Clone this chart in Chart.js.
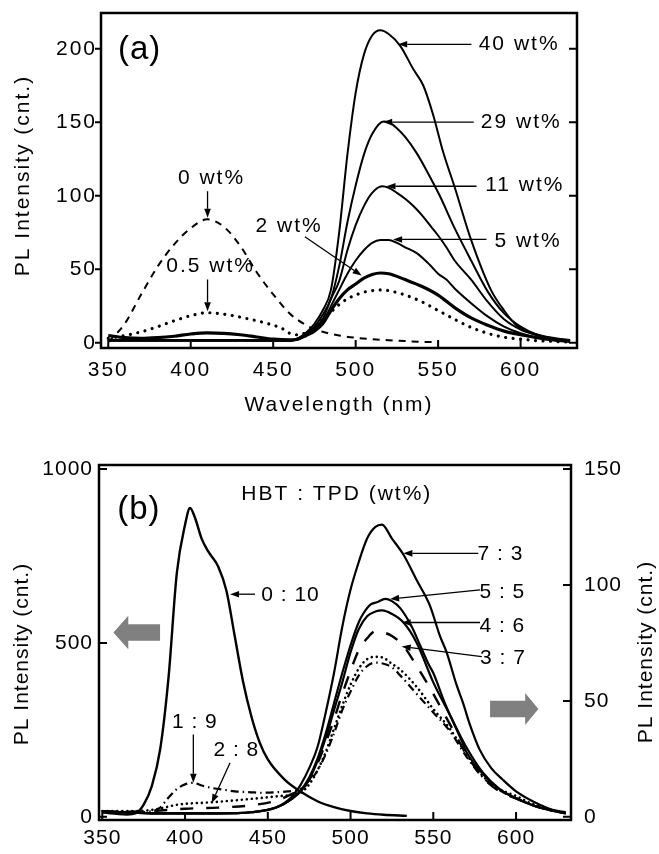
<!DOCTYPE html>
<html><head><meta charset="utf-8">
<script src="https://cdn.jsdelivr.net/npm/chart.js@4.4.1/dist/chart.umd.min.js"></script>
<style>
html,body{margin:0;padding:0;background:#fff;}
#wrap{position:relative;width:659px;height:854px;background:#fff;}
canvas{position:absolute;left:0;}
#ca{top:0;width:659px;height:420px;}
#cb{top:420px;width:659px;height:434px;}
</style></head><body>
<div id="wrap"><canvas id="ca" width="659" height="420"></canvas><canvas id="cb" width="659" height="434"></canvas></div>
<script>
// ---------- Panel (a) data ----------
const xTicksA = [350, 400, 450, 500, 550, 600];
const yTicksA = [0, 50, 100, 150, 200];

const wl_0wt = [350,360,370,380,390,400,410,420,430,440,450,460,470,480,490,500,510,520,530,540,550];
const pl_0wt = [0.5,13,33,52,67,78,84,79,66,48,33,20,12,7.5,5,3.5,2.5,1.8,1.2,0.7,0.4];

const wl_05wt = [350,360,370,380,390,400,410,420,430,440,450,455,460,465,470,475,480,485,490,495,500,505,510,515,520,530,540,550,560,570,580,590,600,610,620,630];
const pl_05wt = [3,5,7.5,11,15,18.5,20.5,19.5,17.5,15,12,10,6.5,5.5,7,11,16,21,26,30,32.5,34.5,35.5,36,35.5,32.5,28,22,16,10.5,6.5,3.8,2.5,1.5,1,0.5];

const wl_2wt = [350,360,370,380,390,400,410,420,430,440,450,460,465,470,475,480,485,490,495,500,505,510,515,520,530,540,550,560,570,580,590,600,610,620,630];
const pl_2wt = [5,3.5,3,3.5,4.5,6,6.8,6.5,5.5,4,2.5,2,2.5,5,8,13,22,30,36,40,44,46.5,47.5,47,43,38.5,32.5,24,17,12,8,5.5,3.5,2,1];

const wl_5wt = [350,370,400,430,460,465,470,475,480,485,490,495,500,505,510,515,520,525,530,537,545,550,555,560,570,580,590,600,610,620,630];
const pl_5wt = [2,2,2,2,1.5,2.5,5,9,14,25,36,47,56,63,68,70,70,68,65,61,53,47,43,37,27,18,11,6.5,3.5,2,1];

const wl_11wt = [350,370,400,430,460,465,470,475,480,485,490,495,500,505,510,516,520,525,530,535,540,545,550,555,560,570,580,590,600,610,620,630];
const pl_11wt = [1.5,1.5,1.5,1.5,1.5,3,6,10,16,30,42,63,80,93,102,106.5,105.5,102,98,93,87,80,73,65,56,43,28,16,9,5,2.5,1.2];

const wl_29wt = [350,370,400,430,460,465,470,475,480,485,490,495,500,505,510,517,520,525,530,537,545,551,560,570,580,590,600,610,620,630];
const pl_29wt = [1.5,1.5,1.5,1.5,1.5,3,6,11,19,30,52,82,107,128,142,150.5,150,146,140,129,113,100,78,56,35,20,11,5.5,3,1.5];

const wl_40wt = [350,370,400,430,460,465,470,475,480,485,490,495,500,505,510,515,520,527,535,541,547,553,560,570,582,590,598,606,614,622,630];
const pl_40wt = [2,2,2,2,1.5,3,7,13,22,36,75,128,170,196,209,212.5,210,202,186,175,155,130,106,70,36,22,11.3,7,4.5,3,2];

// ---------- Panel (b) data ----------
const xTicksB = [350, 400, 450, 500, 550, 600];
const yTicksB = [0, 500, 1000];
const y2TicksB = [0, 50, 100, 150];

const wl_0_10 = [350,355,360,365,370,375,380,385,390,395,400,403,406,410,414,420,425,430,435,440,445,450,460,470,480,490,500,510,520,534];
const pl_0_10 = [14,10,8,7,10,35,90,195,400,700,840,888,860,800,763,720,650,520,390,290,215,165,108,72,45,28,17,10,6,3];

const wl_1_9 = [350,370,380,385,389,395,400,405,410,416,425,430,440,446,455,462,470,475,480,485,490,495,500,505,510,515,520,525,530,540,550,560,570,580,590,600,610,620,630];
const pl_1_9 = [2.5,2,2.5,4,7.5,12,14,14.7,13.5,12.5,11.5,11,10.6,10.4,10.6,11,12,15,20,27,36,46,54,61,65,66.5,66,64.5,61,53,45,37,26,17,11.5,8,5,3,1.5];

const wl_2_8 = [350,370,382,396,416,436,456,470,475,480,485,490,495,500,505,510,515,520,525,530,540,550,560,570,580,590,600,610,620,630];
const pl_2_8 = [2.5,2.5,3.2,5.3,6.3,7.5,8.9,10.5,14,20,28,38,48,57,64,68,69,68.5,66,63.5,56,46.5,38,27,17.5,12,9,5.5,3.2,1.5];

const wl_3_7 = [350,380,400,420,440,455,465,470,475,480,485,490,495,500,505,510,515,520,525,532,540,546,550,560,570,580,590,600,610,620,630];
const pl_3_7 = [2,2.5,3.5,4,5,7,10,12,16,23,32,42,53,63,72,77,80,79.5,78,73.7,65,58,53,40,27,17,11,8,5,3,1.5];

const wl_4_6 = [350,380,420,440,455,465,470,475,480,485,490,495,500,505,510,515,519,525,532,540,550,560,570,580,590,600,610,620,630];
const pl_4_6 = [2.5,1.5,1.5,2,4,8,11,16,24,34,46,58,71,81,86.5,88.5,89,87.5,83.8,75,58,44,30,19,12,8,5,3,1.5];

const wl_5_5 = [350,380,420,440,455,465,470,475,480,485,490,495,500,505,508,512,516,521,525,530,537,542,547,550,557,560,567,570,580,590,600,610,620,630];
const pl_5_5 = [2.5,1.5,1.5,2,4,8,11.5,17,25,36,49,62,74,84,88,91.5,92.5,94,93,90,82,74,66,62,49,44,33,28,18.5,12,8,5,3,1.8];

const wl_7_3 = [350,380,420,440,455,465,470,475,480,485,490,495,500,505,510,515,519,525,532,540,548,554,558,564,568,572,578,585,592,600,608,615,622,630];
const pl_7_3 = [2.5,1.5,1.5,2,4,9,14,21,30,45,62,82,98,110,120,125,126,120,113,102,91,78,71,57,49,40,29,21,16,11,7.5,5,3,2];

// ---------- helpers ----------
const FONT = "'Liberation Sans', Arial, Helvetica, sans-serif";
Chart.defaults.font.family = FONT;
Chart.defaults.color = '#000';

function series(xs, ys, opts) {
  return Object.assign({
    data: xs.map((x, i) => ({x: x, y: ys[i]})),
    borderColor: '#000', backgroundColor: '#000',
    pointRadius: 0, fill: false, borderWidth: 2,
    cubicInterpolationMode: 'monotone'
  }, opts || {});
}
const DOTS = {borderDash: [0.01, 7.5], borderCapStyle: 'round', borderWidth: 3.2};

function makePlugin(cfg) {
  return {
    id: 'decor',
    beforeLayout(chart) { chart.ctx.letterSpacing = cfg.ls + 'px'; },
    beforeDraw(chart) {
      const ctx = chart.ctx;
      ctx.save(); ctx.fillStyle = '#fff'; ctx.fillRect(0, 0, chart.width, chart.height); ctx.restore();
      ctx.letterSpacing = cfg.ls + 'px';
    },
    afterDraw(chart) {
      const ctx = chart.ctx, a = chart.chartArea;
      const sx = chart.scales.x, sy = chart.scales[cfg.yScale];
      ctx.save();
      ctx.strokeStyle = '#000'; ctx.fillStyle = '#000';
      ctx.lineWidth = 2.5;
      ctx.strokeRect(a.left, a.top, a.right - a.left, a.bottom - a.top);
      ctx.lineWidth = 2;
      ctx.beginPath();
      for (const t of cfg.ticks) {
        const sc = chart.scales[t.scale];
        for (const v of t.values) {
          const p = sc.getPixelForValue(v);
          if (t.side === 'bottom') { ctx.moveTo(p, a.bottom); ctx.lineTo(p, a.bottom - t.len); }
          else if (t.side === 'left') { ctx.moveTo(a.left, p); ctx.lineTo(a.left + t.len, p); }
          else { ctx.moveTo(a.right, p); ctx.lineTo(a.right - t.len, p); }
        }
      }
      ctx.stroke();
      // thin arrows
      ctx.lineWidth = 1.3;
      for (const ar of cfg.arrows) {
        const x1 = sx.getPixelForValue(ar[0]), y1 = sy.getPixelForValue(ar[1]);
        const x2 = sx.getPixelForValue(ar[2]), y2 = sy.getPixelForValue(ar[3]);
        const ang = Math.atan2(y2 - y1, x2 - x1), L = 9, W = 3.3;
        const bx = x2 - L * Math.cos(ang), by = y2 - L * Math.sin(ang);
        ctx.beginPath(); ctx.moveTo(x1, y1); ctx.lineTo(bx, by); ctx.stroke();
        ctx.beginPath(); ctx.moveTo(x2, y2);
        ctx.lineTo(bx - W * Math.sin(ang), by + W * Math.cos(ang));
        ctx.lineTo(bx + W * Math.sin(ang), by - W * Math.cos(ang));
        ctx.closePath(); ctx.fill();
      }
      // gray block arrows
      ctx.fillStyle = '#808080';
      for (const b of (cfg.blocks || [])) {
        const xt = sx.getPixelForValue(b.tail), xb = sx.getPixelForValue(b.base), xp = sx.getPixelForValue(b.tip);
        const yc = sy.getPixelForValue(b.y);
        ctx.beginPath();
        ctx.moveTo(xt, yc - b.body); ctx.lineTo(xb, yc - b.body); ctx.lineTo(xb, yc - b.head);
        ctx.lineTo(xp, yc); ctx.lineTo(xb, yc + b.head); ctx.lineTo(xb, yc + b.body);
        ctx.lineTo(xt, yc + b.body); ctx.closePath(); ctx.fill();
      }
      // texts
      ctx.fillStyle = '#000'; ctx.textAlign = 'center'; ctx.textBaseline = 'middle';
      for (const t of cfg.texts) {
        const ls = (t.ls !== undefined) ? t.ls : cfg.ls;
        ctx.font = (t.size || 21) + 'px ' + FONT;
        ctx.letterSpacing = ls + 'px';
        ctx.fillText(t.t, sx.getPixelForValue(t.x) + ls / 2, sy.getPixelForValue(t.y));
      }
      // vertical axis titles (both read bottom-to-top)
      for (const vt of (cfg.vtitles || [])) {
        ctx.save();
        ctx.font = '21px ' + FONT;
        ctx.letterSpacing = cfg.ls + 'px';
        ctx.translate(vt.cx, (a.top + a.bottom) / 2 + vt.dy);
        ctx.rotate(-Math.PI / 2);
        ctx.fillText(vt.text, cfg.ls / 2, 0);
        ctx.restore();
      }
      ctx.restore();
    }
  };
}

function fixTicks(arr) { return s => { s.ticks = arr.map(v => ({value: v})); }; }
function zeroPad(s) { s.paddingTop = 0; s.paddingBottom = 0; s.paddingLeft = 0; s.paddingRight = 0; }

const baseOpts = {
  responsive: false, animation: false, devicePixelRatio: 1,
  plugins: {legend: {display: false}, tooltip: {enabled: false}},
  elements: {line: {tension: 0.4}}
};

// ---------- Chart (a) ----------
const cfgA = {
  ls: 2, yScale: 'y',
  ticks: [
    {scale: 'x', side: 'bottom', len: 8, values: xTicksA},
    {scale: 'y', side: 'left', len: -6, values: yTicksA},
    {scale: 'y', side: 'right', len: 8, values: yTicksA}
  ],
  texts: [
    {t: '(a)', x: 368.7, y: 199.5, size: 33, ls: 1},
    {t: '0 wt%', x: 412, y: 112.2},
    {t: '0.5 wt%', x: 411.5, y: 52.1},
    {t: '2 wt%', x: 459.1, y: 79.3},
    {t: '40 wt%', x: 598.5, y: 203},
    {t: '29 wt%', x: 599.8, y: 150.2},
    {t: '11 wt%', x: 602, y: 107.1},
    {t: '5 wt%', x: 603.9, y: 69.1}
  ],
  arrows: [
    [410.2, 103.1, 410.2, 85.0],
    [410.2, 43.1, 410.2, 21.5],
    [469.2, 72.1, 503.6, 45.8],
    [570.2, 203, 525.8, 203],
    [571.6, 150.1, 516.7, 150.1],
    [573.3, 106.5, 518.7, 106.5],
    [579.3, 70.3, 522.7, 70.3]
  ],
  vtitles: [{text: 'PL Intensity (cnt.)', cx: 23, dy: -4}]
};

new Chart(document.getElementById('ca'), {
  type: 'line',
  data: {datasets: [
    series(wl_0wt, pl_0wt, {borderDash: [7, 6], borderWidth: 2}),
    series(wl_05wt, pl_05wt, DOTS),
    series(wl_2wt, pl_2wt, {borderWidth: 3.2}),
    series(wl_5wt, pl_5wt),
    series(wl_11wt, pl_11wt),
    series(wl_29wt, pl_29wt),
    series(wl_40wt, pl_40wt)
  ]},
  options: Object.assign({}, baseOpts, {
    layout: {padding: {top: 13, right: 82, left: 0, bottom: 0}},
    scales: {
      x: {
        type: 'linear', min: 345.6, max: 634.2,
        afterBuildTicks: fixTicks(xTicksA),
        afterFit: s => { s.height = 72; zeroPad(s); },
        grid: {display: false, drawTicks: false}, border: {display: false},
        ticks: {padding: 10, font: {size: 21}, color: '#000', maxRotation: 0, callback: v => String(v)},
        title: {display: true, text: 'Wavelength (nm)', color: '#000', font: {size: 21}, padding: {top: 0, bottom: 2}}
      },
      y: {
        type: 'linear', min: -3.5, max: 224.3,
        afterBuildTicks: fixTicks(yTicksA),
        afterFit: s => { s.width = 101; zeroPad(s); },
        grid: {display: false, drawTicks: false}, border: {display: false},
        ticks: {padding: 4, font: {size: 21}, color: '#000', callback: v => String(v)},
        title: {display: false, text: 'PL Intensity (cnt.)'}
      }
    }
  }),
  plugins: [makePlugin(cfgA)]
});

// ---------- Chart (b) ----------
const cfgB = {
  ls: 1, yScale: 'y2',
  ticks: [
    {scale: 'x', side: 'bottom', len: 8, values: xTicksB},
    {scale: 'y', side: 'left', len: 8, values: yTicksB},
    {scale: 'y2', side: 'right', len: 8, values: y2TicksB}
  ],
  texts: [
    {t: '(b)', x: 371.8, y: 132.5, size: 33, ls: 1},
    {t: 'HBT : TPD (wt%)', x: 491.1, y: 139.2, ls: 2},
    {t: '0 : 10', x: 463.4, y: 95.7},
    {t: '7 : 3', x: 590.3, y: 113.3},
    {t: '5 : 5', x: 591.4, y: 96.8},
    {t: '4 : 6', x: 591.4, y: 82.3},
    {t: '3 : 7', x: 591.8, y: 68.3},
    {t: '1 : 9', x: 405.6, y: 41},
    {t: '2 : 8', x: 430.7, y: 28.6}
  ],
  arrows: [
    [442.3, 96.0, 427.2, 96.0],
    [577.2, 113.6, 531.9, 113.6],
    [578.2, 97.9, 523.9, 93.9],
    [578.2, 83.8, 530.9, 83.8],
    [579.3, 69.1, 530.9, 73.4],
    [405, 35.5, 405, 14.7],
    [427.2, 23.3, 416.1, 6]
  ],
  blocks: [
    {tail: 384.9, base: 365.7, tip: 356.7, y: 79.5, body: 8.3, head: 16.7},
    {tail: 584.3, base: 605.5, tip: 613.5, y: 46.5, body: 8.3, head: 16}
  ],
  vtitles: [
    {text: 'PL Intensity (cnt.)', cx: 22, dy: 12},
    {text: 'PL Intensity (cnt.)', cx: 646, dy: 10}
  ]
};

new Chart(document.getElementById('cb'), {
  type: 'line',
  data: {datasets: [
    series(wl_0_10, pl_0_10, {yAxisID: 'y', borderWidth: 2.4}),
    series(wl_1_9, pl_1_9, {yAxisID: 'y2', borderDash: [8, 4, 1.5, 4], borderWidth: 2.2}),
    series(wl_2_8, pl_2_8, {yAxisID: 'y2', borderDash: [0.01, 5], borderCapStyle: 'round', borderWidth: 2.6}),
    series(wl_3_7, pl_3_7, {yAxisID: 'y2', borderDash: [13, 13], borderWidth: 2.4}),
    series(wl_4_6, pl_4_6, {yAxisID: 'y2', borderWidth: 2.2}),
    series(wl_5_5, pl_5_5, {yAxisID: 'y2', borderWidth: 2.2}),
    series(wl_7_3, pl_7_3, {yAxisID: 'y2', borderWidth: 2.2})
  ]},
  options: Object.assign({}, baseOpts, {
    layout: {padding: {top: 45, right: 0, left: 0, bottom: 0}},
    scales: {
      x: {
        type: 'linear', min: 348, max: 633.2,
        afterBuildTicks: fixTicks(xTicksB),
        afterFit: s => { s.height = 34; zeroPad(s); },
        grid: {display: false, drawTicks: false}, border: {display: false},
        ticks: {padding: 6, font: {size: 21}, color: '#000', maxRotation: 0, callback: v => String(v)}
      },
      y: {
        type: 'linear', position: 'left', min: -9, max: 1011.5,
        afterBuildTicks: fixTicks(yTicksB),
        afterFit: s => { s.width = 99; zeroPad(s); },
        grid: {display: false, drawTicks: false}, border: {display: false},
        ticks: {padding: 6, font: {size: 21}, color: '#000', callback: v => String(v)},
        title: {display: false, text: 'PL Intensity (cnt.)'}
      },
      y2: {
        type: 'linear', position: 'right', min: -1.35, max: 151.7,
        afterBuildTicks: fixTicks(y2TicksB),
        afterFit: s => { s.width = 88; zeroPad(s); },
        grid: {display: false, drawTicks: false}, border: {display: false},
        ticks: {padding: 13, font: {size: 21}, color: '#000', callback: v => String(v)},
        title: {display: false, text: 'PL Intensity (cnt.)'}
      }
    }
  }),
  plugins: [makePlugin(cfgB)]
});
</script>
</body></html>
